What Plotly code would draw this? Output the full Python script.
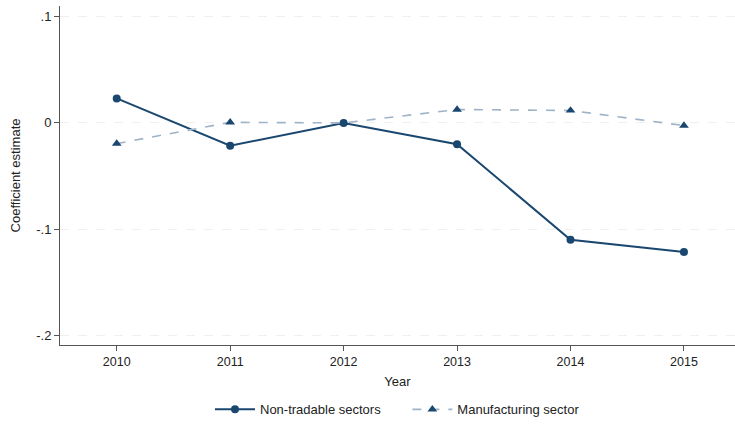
import plotly.graph_objects as go

# Event-study style coefficients by year
years = [2010, 2011, 2012, 2013, 2014, 2015]
non_tradable = [0.023, -0.0215, 0.0, -0.020, -0.110, -0.1215]
manufacturing = [-0.0195, 0.0005, 0.0, 0.0126, 0.0117, -0.0025]

y_tickvals = [-0.2, -0.1, 0.0, 0.1]
y_ticktext = ["-.2", "-.1", "0", ".1"]

NAVY = "#1a476f"
LIGHT = "#9fb3c8"
AXIS = "#555555"
FONT = "Liberation Sans, Arial, Helvetica, sans-serif"
PAD = "\u00a0" * 6

fig = go.Figure()

fig.add_trace(go.Scatter(
    x=years, y=non_tradable, mode="lines+markers",
    name="Non-tradable sectors" + PAD,
    line=dict(color=NAVY, width=2),
    marker=dict(symbol="circle", size=8, color=NAVY),
))
fig.add_trace(go.Scatter(
    x=years, y=manufacturing, mode="lines+markers",
    name="Manufacturing sector",
    line=dict(color=LIGHT, width=1.6, dash="dash"),
    marker=dict(symbol="triangle-up", size=8.5, color=NAVY),
))

fig.update_layout(
    width=735, height=425,
    margin=dict(l=60, r=0, t=6, b=75),
    paper_bgcolor="white", plot_bgcolor="white",
    font=dict(family=FONT, size=13, color="#222222"),
    showlegend=True,
    legend=dict(
        orientation="h", x=0.5, xanchor="center",
        y=-0.19, yanchor="middle",
        font=dict(size=13, color="#222222"),
        itemwidth=40,
    ),
    xaxis=dict(
        range=[2009.5, 2015.45],
        tickvals=years, ticktext=[str(y) for y in years],
        showline=True, linecolor=AXIS, linewidth=1,
        ticks="outside", ticklen=5, tickcolor=AXIS,
        showgrid=False, zeroline=False,
        title=dict(text="Year", standoff=8, font=dict(size=13)),
        tickfont=dict(size=12.5),
    ),
    yaxis=dict(
        range=[-0.209, 0.110],
        tickvals=y_tickvals, ticktext=y_ticktext,
        showline=True, linecolor=AXIS, linewidth=1,
        ticks="outside", ticklen=5, tickcolor=AXIS,
        showgrid=True, gridcolor="#f0f0f0", gridwidth=1, griddash="dash",
        zeroline=False,
        title=dict(text="Coefficient estimate", standoff=12, font=dict(size=13)),
        tickfont=dict(size=13),
    ),
)

fig.write_html("out.html")
